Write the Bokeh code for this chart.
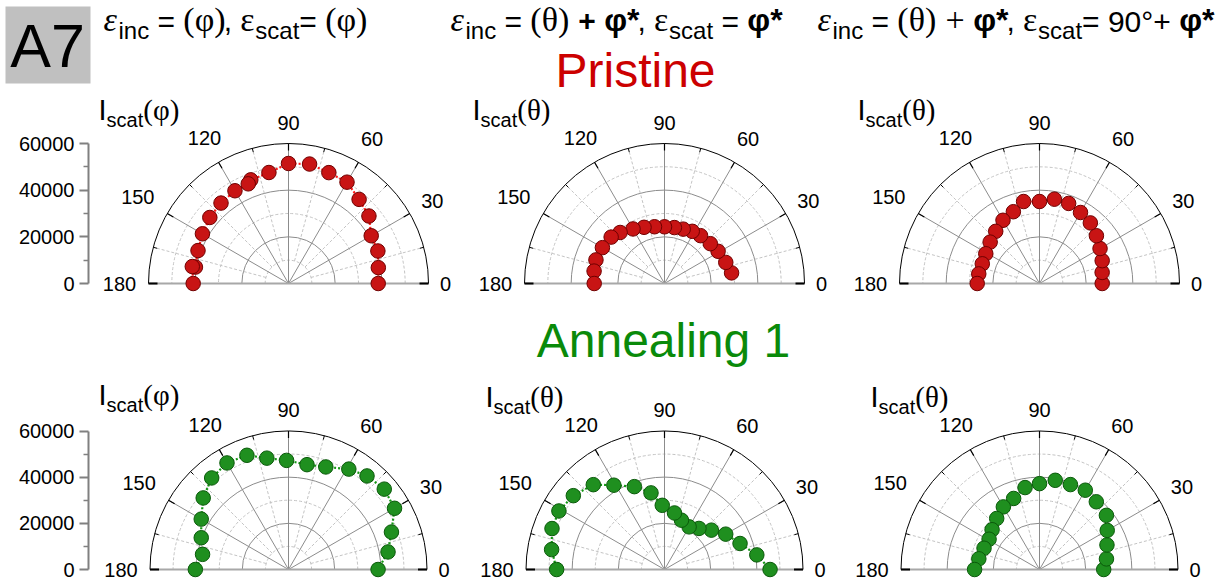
import numpy as np
from bokeh.plotting import figure
from bokeh.models import Range1d, LinearAxis, FixedTicker, ColumnDataSource, BoxAnnotation
from bokeh.core.properties import value
from bokeh.embed import file_html
from bokeh.resources import INLINE

# ---------------- data (angle in degrees, intensity in counts) ----------------
pristine_phi_ang = [0, 10, 20, 30, 40, 50, 60, 70, 80, 90, 100, 110, 112, 120, 130, 140, 150, 160, 170, 170, 180]
pristine_phi_val = [38450, 39090, 40760, 40930, 45000, 47060, 50150, 50570, 51990, 51430, 48300, 47270, 46070,
                    45900, 45000, 44020, 42600, 41270, 40500, 41870, 40850]

pristine_th1_ang = [9, 19, 31, 41, 53, 62, 71, 80, 90, 100, 110, 120, 131, 139, 150, 161, 170, 180]
pristine_th1_val = [29100, 27770, 26790, 26020, 25670, 25330, 24640, 24340, 24300, 24690, 25630, 27000,
                    28970, 30300, 30730, 31070, 30640, 30130]

pristine_th2_ang = [0, 10, 20, 30, 40, 50, 60, 70, 80, 90, 101, 110, 120, 130, 140, 151, 161, 171, 180]
pristine_th2_val = [26870, 27260, 28590, 29960, 31840, 33900, 35140, 36520, 36690, 35140, 35790, 32740,
                    31290, 29190, 27600, 26320, 25930, 26360, 26700]

anneal_phi_ang = [0, 10, 20, 30, 40, 50, 59, 70, 80, 91, 101, 110, 120, 130, 140, 150, 160, 170, 180]
anneal_phi_val = [38800, 43780, 47460, 53040, 54160, 52910, 50740, 47280, 46120, 47280, 49140, 52650,
                  53300, 51780, 48230, 43650, 40230, 37810, 40360]

anneal_th1_ang = [0, 9, 19, 30, 40, 50, 60, 71, 80, 92, 100, 110, 121, 130, 141, 151, 160, 170, 180]
anneal_th1_val = [45730, 40490, 34610, 30630, 26520, 23230, 21330, 22580, 24870, 27820, 33700, 38200,
                  42610, 47980, 50830, 52300, 51870, 49660, 46720]

anneal_th2_ang = [0, 9, 20, 30, 39, 50, 60, 70, 80, 90, 100, 110, 120, 130, 140, 149, 159, 170, 180]
anneal_th2_val = [27820, 29370, 31100, 33870, 37290, 38290, 39670, 39150, 39240, 37200, 36040, 32750,
                  31320, 28850, 26820, 25480, 25740, 26690, 28120]

r_max = 60000
r_ticks = [0, 20000, 40000, 60000]
r_minor = [10000, 30000, 50000]
ang_ticks = [0, 30, 60, 90, 120, 150, 180]
ang_labels = ["0", "30", "60", "90", "120", "150", "180"]

row_titles = ["Pristine", "Annealing 1"]

# ---------------- figure ----------------
W, H = 1218, 583
p = figure(width=W, height=H, x_range=Range1d(0, W), y_range=Range1d(H, 0),
           output_backend="svg", toolbar_location=None, min_border=0,
           x_axis_type=None, y_axis_type=None)
p.outline_line_color = None
p.background_fill_color = "white"

SANS = "Liberation Sans"
SERIF = "Liberation Serif"

RED = dict(fill="#c81414", line="#700000", curve="#ff1a1a")
GREEN = dict(fill="#1f8f1f", line="#0a5a0a", curve="#139613")

panels = [
    dict(ang=pristine_phi_ang, val=pristine_phi_val, cx=288, cy=283, R=140, col=RED, yaxis=True),
    dict(ang=pristine_th1_ang, val=pristine_th1_val, cx=664, cy=283, R=140, col=RED, yaxis=False),
    dict(ang=pristine_th2_ang, val=pristine_th2_val, cx=1039, cy=283, R=140, col=RED, yaxis=False),
    dict(ang=anneal_phi_ang, val=anneal_phi_val, cx=288, cy=569, R=138.5, col=GREEN, yaxis=True),
    dict(ang=anneal_th1_ang, val=anneal_th1_val, cx=664, cy=569, R=138.5, col=GREEN, yaxis=False),
    dict(ang=anneal_th2_ang, val=anneal_th2_val, cx=1039, cy=569, R=138.5, col=GREEN, yaxis=False),
]

label_gap = {0: 17, 30: 26, 60: 27, 90: 21, 120: 28, 150: 34, 180: 29}

# A7 tag background (underlay)
p.add_layout(BoxAnnotation(left=5, right=90, top=6, bottom=83, fill_color="#c0c0c0",
                           fill_alpha=1, line_color=None, level="underlay"))

for i, pn in enumerate(panels):
    k = r_max / pn["R"]          # data units per pixel
    xr, yr = f"x{i}", f"y{i}"
    p.extra_x_ranges[xr] = Range1d((0 - pn["cx"]) * k, (W - pn["cx"]) * k)
    p.extra_y_ranges[yr] = Range1d((pn["cy"] - H) * k, pn["cy"] * k)
    kw = dict(x_range_name=xr, y_range_name=yr)

    p.arc(x=0, y=0, radius=r_minor, start_angle=0, end_angle=np.pi,
          line_color="#c4c4c4", line_dash="3 2", line_width=1, **kw)
    p.arc(x=0, y=0, radius=r_ticks[1:-1], start_angle=0, end_angle=np.pi,
          line_color="#8c8c8c", line_width=1, **kw)
    mids = np.radians(np.arange(15, 180, 30))
    p.segment(x0=10000 * np.cos(mids), y0=10000 * np.sin(mids),
              x1=r_max * np.cos(mids), y1=r_max * np.sin(mids),
              line_color="#c4c4c4", line_dash="3 2", line_width=1, **kw)
    majs = np.radians(np.array(ang_ticks[1:-1]))
    p.segment(x0=0, y0=0, x1=r_max * np.cos(majs), y1=r_max * np.sin(majs),
              line_color="#8c8c8c", line_width=1, **kw)
    p.segment(x0=-r_max, y0=0, x1=r_max, y1=0, line_color="#a8a8a8", line_width=2, **kw)
    p.arc(x=0, y=0, radius=r_max, start_angle=0, end_angle=np.pi,
          line_color="black", line_width=1, **kw)
    r_in_maj = r_max - 7 * k
    p.segment(x0=r_in_maj * np.cos(majs), y0=r_in_maj * np.sin(majs),
              x1=r_max * np.cos(majs), y1=r_max * np.sin(majs),
              line_color="black", line_width=1.2, **kw)
    r_in_min = r_max - 4 * k
    p.segment(x0=r_in_min * np.cos(mids), y0=r_in_min * np.sin(mids),
              x1=r_max * np.cos(mids), y1=r_max * np.sin(mids),
              line_color="black", line_width=1, **kw)
    ends = np.radians([0, 180])
    r_in_end = r_max - 9 * k
    p.segment(x0=r_in_end * np.cos(ends), y0=0, x1=r_max * np.cos(ends), y1=0,
              line_color="black", line_width=2, **kw)

    la = np.radians(ang_ticks)
    lr = np.array([r_max + label_gap[a] * k for a in ang_ticks])
    p.text(x=lr * np.cos(la), y=lr * np.sin(la), text=ang_labels,
           text_align="center", text_baseline="middle",
           text_font=value(SANS), text_font_size="20px", text_color="black", **kw)

    th = np.radians(pn["ang"])
    r = np.array(pn["val"], dtype=float)
    src = ColumnDataSource(dict(x=r * np.cos(th), y=r * np.sin(th)))
    p.line("x", "y", source=src, line_color=pn["col"]["curve"], line_width=2.2,
           line_dash="2 2", **kw)
    p.scatter("x", "y", source=src, size=14.5, fill_color=pn["col"]["fill"],
              line_color=pn["col"]["line"], line_width=1, **kw)

    if pn["yaxis"]:
        ax = LinearAxis(y_range_name=yr, fixed_location=88, bounds=(0, r_max),
                        ticker=FixedTicker(ticks=r_ticks, minor_ticks=r_minor),
                        axis_line_color="#808080", axis_line_width=2,
                        major_tick_line_color="#808080", major_tick_line_width=2,
                        major_tick_out=9, major_tick_in=0,
                        minor_tick_line_color="#808080", minor_tick_line_width=1.5,
                        minor_tick_out=5, minor_tick_in=0,
                        major_label_text_font=SANS, major_label_text_font_size="20px",
                        major_label_text_color="black", major_label_standoff=5)
        p.add_layout(ax, "left")

# ---------------- texts ----------------
W_SANS = {' ': .278, '=': .584, ',': .278, '+': .584, '*': .389, '°': .4, 'i': .222, 'n': .556,
          'c': .5, 's': .5, 'a': .556, 't': .278, 'I': .278, '9': .556, '0': .556, 'φ': .65}
W_SERIF = {'(': .333, ')': .333, 'φ': .52, 'θ': .5, 'ε': .44, '+': .564, ' ': .25}
MID = 0.347   # distance baseline -> 'middle' anchor, in em


def seg_width(txt, fam, size):
    tab = W_SANS if fam == SANS else W_SERIF
    return sum(tab.get(c, .55) for c in txt) * size


def layout(segs, x0, base):
    out = dict(x=[], y=[], text=[], font=[], size=[], style=[])
    x = x0
    for txt, fam, size, style, dy in segs:
        lead = len(txt) - len(txt.lstrip(" "))
        out["x"].append(x + seg_width(" " * lead, fam, size))
        out["y"].append(base + dy - MID * size)
        out["text"].append(txt.strip(" "))
        out["font"].append(fam)
        out["size"].append(f"{size}px")
        out["style"].append(style)
        x += seg_width(txt, fam, size)
    return out


def merge(*ds):
    out = {k: [] for k in ds[0]}
    for d in ds:
        for k in out:
            out[k] += d[k]
    return out


MS, GS, SS, BS = 30, 34, 24, 32     # main sans, serif/greek, subscript, bold phi sizes
EPS_I = ("ε", SERIF, GS, "italic", 0)
INC = ("inc", SANS, SS, "normal", 7)
SCAT = ("scat", SANS, SS, "normal", 7)
EPS = ("ε", SERIF, GS, "normal", 0)
PHI_S = ("φ*", SANS, BS, "bold", 0)

h1 = [EPS_I, INC, (" = ", SANS, MS, "normal", 0), ("(φ)", SERIF, GS, "normal", 0),
      (", ", SANS, MS, "normal", 0), EPS, SCAT, ("= ", SANS, MS, "normal", 0),
      ("(φ)", SERIF, GS, "normal", 0)]
h2 = [EPS_I, INC, (" = ", SANS, MS, "normal", 0), ("(θ)", SERIF, GS, "normal", 0),
      (" + ", SANS, MS, "bold", 0), PHI_S, (", ", SANS, MS, "normal", 0),
      EPS, SCAT, (" = ", SANS, MS, "normal", 0), PHI_S]
h3 = [EPS_I, INC, (" = ", SANS, MS, "normal", 0), ("(θ)", SERIF, GS, "normal", 0),
      (" + ", SERIF, GS, "normal", 0), PHI_S, (", ", SANS, MS, "normal", 0),
      EPS, SCAT, ("= 90°+ ", SANS, MS, "normal", 0), PHI_S]

lab_phi = [("I", SANS, 29, "normal", 0), ("scat", SANS, 20, "normal", 6), ("(φ)", SERIF, 29, "normal", 0)]
lab_th = [("I", SANS, 29, "normal", 0), ("scat", SANS, 20, "normal", 6), ("(θ)", SERIF, 29, "normal", 0)]

txt = merge(layout(h1, 103, 31), layout(h2, 450, 31), layout(h3, 817, 31),
            layout(lab_phi, 98, 120), layout(lab_th, 472, 120), layout(lab_th, 857, 120),
            layout(lab_phi, 98, 405), layout(lab_th, 485, 407), layout(lab_th, 870, 407))
p.text(x="x", y="y", text="text", text_font="font", text_font_size="size",
       text_font_style="style", text_align="left", text_baseline="middle",
       text_color="black", source=ColumnDataSource(txt))

# A7 tag text
p.text(x=[47], y=[67 - MID * 61], text=["A7"], text_align="center", text_baseline="middle",
       text_font=value(SANS), text_font_size="61px", text_color="black")

# row titles
p.text(x=[635, 663], y=[87 - MID * 48, 357 - MID * 48], text=row_titles,
       text_align="center", text_baseline="middle",
       text_font=value(SANS), text_font_size="48px", text_color=["#cc0000", "#0a8a0a"])

open("out.html", "w").write(file_html(p, INLINE))
